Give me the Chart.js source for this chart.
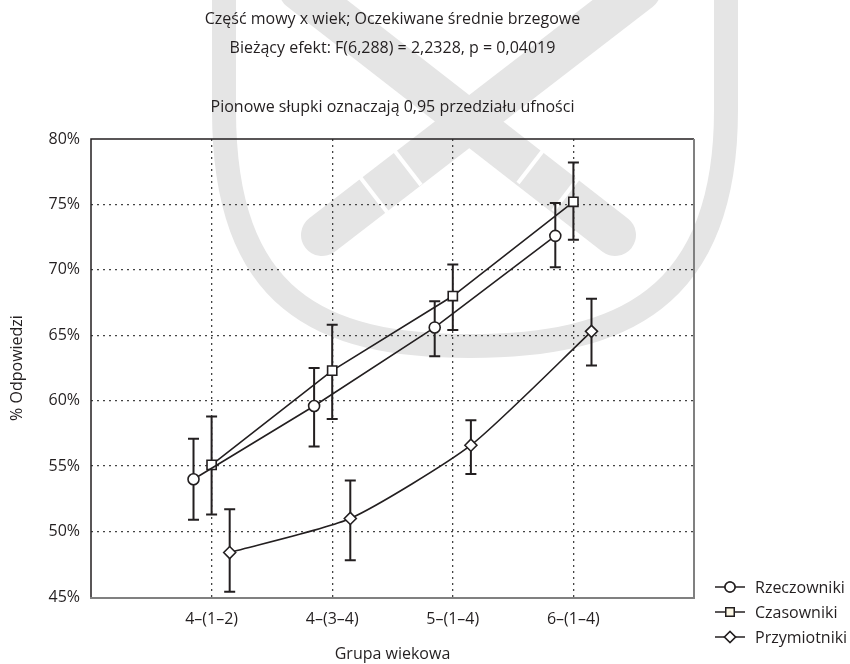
<!DOCTYPE html>
<html>
<head>
<meta charset="utf-8">
<script src="https://cdn.jsdelivr.net/npm/chart.js@4/dist/chart.umd.min.js"></script>
<style>
  html, body { margin: 0; padding: 0; background: #fff; }
  canvas { display: block; }
</style>
</head>
<body>
<canvas id="chart" width="850" height="664"></canvas>
<script>
// Część mowy x wiek – means with 0.95 CI
const categories = ['4–(1–2)', '4–(3–4)', '5–(1–4)', '6–(1–4)'];
const seriesNames = ['Rzeczowniki', 'Czasowniki', 'Przymiotniki'];

const rzeczMean = [54.0, 59.6, 65.6, 72.6];
const rzeczLow  = [50.9, 56.5, 63.4, 70.2];
const rzeczHigh = [57.1, 62.5, 67.6, 75.1];

const czasMean = [55.1, 62.3, 68.0, 75.2];
const czasLow  = [51.3, 58.6, 65.4, 72.3];
const czasHigh = [58.8, 65.8, 70.4, 78.2];

const przymMean = [48.4, 51.0, 56.6, 65.3];
const przymLow  = [45.4, 47.8, 54.4, 62.7];
const przymHigh = [51.7, 53.9, 58.5, 67.8];

const yTicks = [45, 50, 55, 60, 65, 70, 75, 80];
const offsets = [-0.15, 0, 0.15];

const titleLines = [
  'Część mowy x wiek; Oczekiwane średnie brzegowe',
  'Bieżący efekt: F(6,288) = 2,2328, p = 0,04019',
  'Pionowe słupki oznaczają 0,95 przedziału ufności'
];

const INK = '#231f20';
const FONT = '"Open Sans", "Noto Sans", sans-serif';
const FS = 16;

function points(means, k) {
  return means.map((v, i) => ({ x: i + 1 + offsets[k], y: v }));
}

const ciLow = [rzeczLow, czasLow, przymLow];
const ciHigh = [rzeczHigh, czasHigh, przymHigh];

function series(label, means, k, style, radius, tension) {
  return {
    label,
    data: points(means, k),
    borderColor: INK,
    borderWidth: 1.6,
    pointStyle: style,
    pointRadius: radius,
    pointBackgroundColor: '#fff',
    pointBorderColor: INK,
    pointBorderWidth: 1.6,
    tension: tension || 0,
    fill: false
  };
}

// light grey watermark behind the chart
const watermark = {
  id: 'watermark',
  beforeDraw(chart) {
    const ctx = chart.ctx;
    ctx.save();
    ctx.fillStyle = '#fff';
    ctx.fillRect(0, 0, chart.width, chart.height);
    ctx.strokeStyle = '#e5e5e5';
    ctx.lineCap = 'round';
    ctx.lineWidth = 24;
    ctx.beginPath();
    ctx.moveTo(224, -10);
    ctx.lineTo(224, 110);
    ctx.bezierCurveTo(224, 300, 320, 346, 470, 346);
    ctx.bezierCurveTo(620, 346, 726, 300, 726, 110);
    ctx.lineTo(726, -10);
    ctx.stroke();
    ctx.lineWidth = 42;
    ctx.beginPath();
    ctx.moveTo(300, -10);
    ctx.lineTo(615, 235);
    ctx.moveTo(640, -10);
    ctx.lineTo(322, 235);
    ctx.stroke();
    ctx.strokeStyle = '#fff';
    ctx.lineWidth = 4;
    ctx.lineCap = 'butt';
    ctx.beginPath();
    ctx.moveTo(545, 148); ctx.lineTo(518, 183);
    ctx.moveTo(580, 176); ctx.lineTo(553, 211);
    ctx.moveTo(394, 150); ctx.lineTo(421, 185);
    ctx.moveTo(360, 177); ctx.lineTo(387, 212);
    ctx.stroke();
    ctx.restore();
  }
};

const errorBars = {
  id: 'errorBars',
  beforeDatasetsDraw(chart) {
    const { ctx, scales: { x, y } } = chart;
    ctx.save();
    ctx.strokeStyle = INK;
    ctx.lineWidth = 2;
    ciLow.forEach((lows, k) => {
      lows.forEach((lo, i) => {
        const px = x.getPixelForValue(i + 1 + offsets[k]);
        const y1 = y.getPixelForValue(lo);
        const y2 = y.getPixelForValue(ciHigh[k][i]);
        ctx.beginPath();
        ctx.moveTo(px, y1); ctx.lineTo(px, y2);
        ctx.moveTo(px - 5.5, y1); ctx.lineTo(px + 5.5, y1);
        ctx.moveTo(px - 5.5, y2); ctx.lineTo(px + 5.5, y2);
        ctx.stroke();
      });
    });
    ctx.restore();
  }
};

const frameAndText = {
  id: 'frameAndText',
  afterDraw(chart) {
    const { ctx, chartArea: a } = chart;
    ctx.save();
    // frame
    ctx.lineWidth = 1.5;
    ctx.strokeStyle = INK;
    ctx.beginPath();
    ctx.moveTo(a.left, a.bottom); ctx.lineTo(a.left, a.top); ctx.lineTo(a.right, a.top);
    ctx.stroke();
    ctx.lineWidth = 2;
    ctx.strokeStyle = '#808080';
    ctx.beginPath();
    ctx.moveTo(a.right, a.top); ctx.lineTo(a.right, a.bottom + 1); ctx.lineTo(a.left - 1, a.bottom + 1);
    ctx.stroke();

    // titles
    ctx.fillStyle = INK;
    ctx.font = FS + 'px ' + FONT;
    ctx.textAlign = 'center';
    ctx.textBaseline = 'middle';
    const cx = (a.left + a.right) / 2;
    [19, 48, 107].forEach((ty, i) => ctx.fillText(titleLines[i], cx, ty));

    // legend
    ctx.textAlign = 'left';
    chart.data.datasets.forEach((ds, k) => {
      const ly = 587 + k * 25;
      ctx.strokeStyle = INK;
      ctx.lineWidth = 1.5;
      ctx.beginPath();
      ctx.moveTo(715, ly); ctx.lineTo(745, ly);
      ctx.stroke();
      ctx.fillStyle = k === 1 ? '#fdf8e6' : '#fff';
      ctx.beginPath();
      Chart.helpers.drawPoint(ctx, {
        pointStyle: ds.pointStyle, radius: ds.pointRadius - 0.5, borderWidth: 1.5, rotation: 0
      }, 730, ly);
      ctx.fill();
      ctx.stroke();
      ctx.fillStyle = INK;
      ctx.fillText(ds.label, 755, ly + 1);
    });
    ctx.restore();
  }
};

new Chart(document.getElementById('chart'), {
  type: 'line',
  data: {
    datasets: [
      series(seriesNames[0], rzeczMean, 0, 'circle', 5.5),
      series(seriesNames[1], czasMean, 1, 'rect', 6.5),
      series(seriesNames[2], przymMean, 2, 'rectRot', 6, 0.2)
    ]
  },
  options: {
    responsive: false,
    animation: false,
    layout: { padding: { top: 139, right: 156, left: 0, bottom: 0 } },
    plugins: {
      legend: { display: false },
      tooltip: { enabled: false }
    },
    scales: {
      x: {
        type: 'linear',
        min: 0,
        max: 5,
        afterBuildTicks: s => { s.ticks = categories.map((c, i) => ({ value: i + 1 })); },
        afterFit: s => { s.height = 67; },
        ticks: {
          callback: v => categories[v - 1],
          autoSkip: false,
          maxRotation: 0,
          padding: 13,
          color: INK,
          font: { family: FONT, size: FS }
        },
        grid: { color: '#444', lineWidth: 1.3, drawTicks: false },
        border: { display: false, dash: [2, 4] },
        title: {
          display: true,
          text: 'Grupa wiekowa',
          color: INK,
          font: { family: FONT, size: FS },
          padding: { top: 0, bottom: 0 }
        }
      },
      y: {
        min: 45,
        max: 80,
        afterBuildTicks: s => { s.ticks = yTicks.map(v => ({ value: v })); },
        afterFit: s => { s.width = 91; },
        ticks: {
          callback: v => v + '%',
          padding: 11,
          color: INK,
          font: { family: FONT, size: FS }
        },
        grid: {
          color: c => (c.tick && (c.tick.value === 45 || c.tick.value === 80)) ? 'rgba(0,0,0,0)' : '#444',
          lineWidth: 1.3,
          drawTicks: false
        },
        border: { display: false, dash: [2, 4] },
        title: {
          display: true,
          text: '% Odpowiedzi',
          color: INK,
          font: { family: FONT, size: FS },
          padding: { top: 8, bottom: 0 }
        }
      }
    }
  },
  plugins: [watermark, errorBars, frameAndText]
});
</script>
</body>
</html>
